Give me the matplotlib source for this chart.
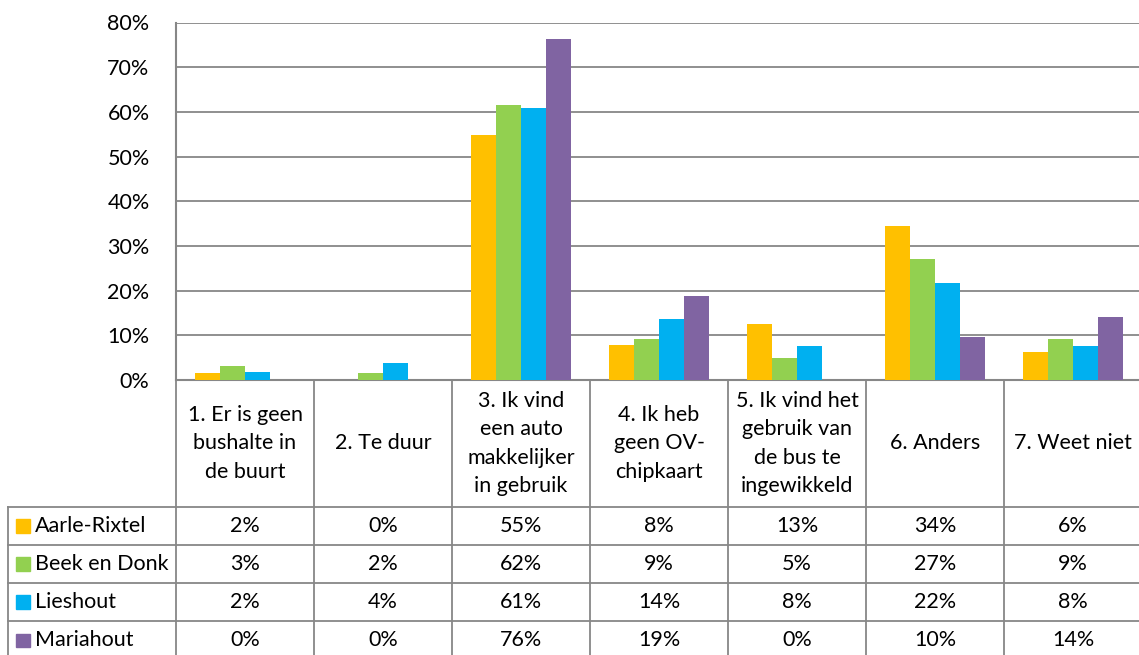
import matplotlib.pyplot as plt
from matplotlib.patches import Rectangle

# categories and series (share of respondents)
categories = [
    "1. Er is geen\nbushalte in\nde buurt",
    "2. Te duur",
    "3. Ik vind\neen auto\nmakkelijker\nin gebruik",
    "4. Ik heb\ngeen OV-\nchipkaart",
    "5. Ik vind het\ngebruik van\nde bus te\ningewikkeld",
    "6. Anders",
    "7. Weet niet",
]
series_names = ["Aarle-Rixtel", "Beek en Donk", "Lieshout", "Mariahout"]
aarle_rixtel = [0.016, 0.0, 0.549, 0.078, 0.126, 0.344, 0.063]
beek_en_donk = [0.032, 0.016, 0.616, 0.091, 0.049, 0.271, 0.091]
lieshout = [0.018, 0.038, 0.608, 0.136, 0.076, 0.216, 0.076]
mariahout = [0.0, 0.0, 0.762, 0.188, 0.0, 0.096, 0.141]

series = [aarle_rixtel, beek_en_donk, lieshout, mariahout]
colors = ["#FFC000", "#92D050", "#00B0F0", "#8064A2"]
grey = "#878787"

plt.rcParams["font.family"] = ["Lato", "DejaVu Sans"]
fs = 15.5

W, H = 1139, 655
fig = plt.figure(figsize=(W / 100, H / 100), dpi=100)

# bar chart area
ax = fig.add_axes([176 / W, (H - 380) / H, 966 / W, (380 - 22.5) / H])
n = len(categories)
bw = 0.181
for i, (vals, col) in enumerate(zip(series, colors)):
    xs = [k + (i - 1.5) * bw for k in range(n)]
    ax.bar(xs, vals, width=bw, color=col, zorder=3)
ax.set_xlim(-0.5, n - 0.5)
ax.set_ylim(0, 0.8)
ax.set_yticks([i / 10 for i in range(9)])
ax.set_yticklabels([f"{i * 10}%" for i in range(9)], fontsize=fs)
ax.set_xticks([])
ax.tick_params(axis="y", length=0, pad=19)
ax.grid(axis="y", color=grey, lw=1.3, zorder=0)
for s in ["top", "right"]:
    ax.spines[s].set_visible(False)
for s in ["left", "bottom"]:
    ax.spines[s].set_color(grey)
    ax.spines[s].set_linewidth(1.5)

# data table below the chart
header_h = 127 / 38.2
total = header_h + len(series)
xmin = -0.5 - 168 / 138
tab = fig.add_axes([8 / W, (H - 659.5) / H, 1134 / W, 279.5 / H])
tab.set_xlim(xmin, n - 0.5)
tab.set_ylim(total, 0)
tab.axis("off")

for k in range(n + 1):
    tab.plot([k - 0.5, k - 0.5], [0, total], color=grey, lw=1.3, clip_on=False)
tab.plot([xmin, xmin], [header_h, total], color=grey, lw=1.3, clip_on=False)
for r in range(len(series) + 1):
    tab.plot([xmin, n - 0.5], [header_h + r, header_h + r], color=grey, lw=1.3, clip_on=False)

for k, lab in enumerate(categories):
    tab.text(k, header_h / 2, lab, ha="center", va="center", fontsize=fs, linespacing=1.52)

for r, (name, vals, col) in enumerate(zip(series_names, series, colors)):
    yc = header_h + r + 0.5
    tab.add_patch(Rectangle((xmin + 8 / 138, yc - 0.18), 14 / 138, 0.36, color=col, clip_on=False))
    tab.text(xmin + 27 / 138, yc, name, ha="left", va="center", fontsize=fs)
    for k, v in enumerate(vals):
        tab.text(k, yc, f"{v:.0%}", ha="center", va="center", fontsize=fs)

fig.savefig("out.png", dpi=100)
